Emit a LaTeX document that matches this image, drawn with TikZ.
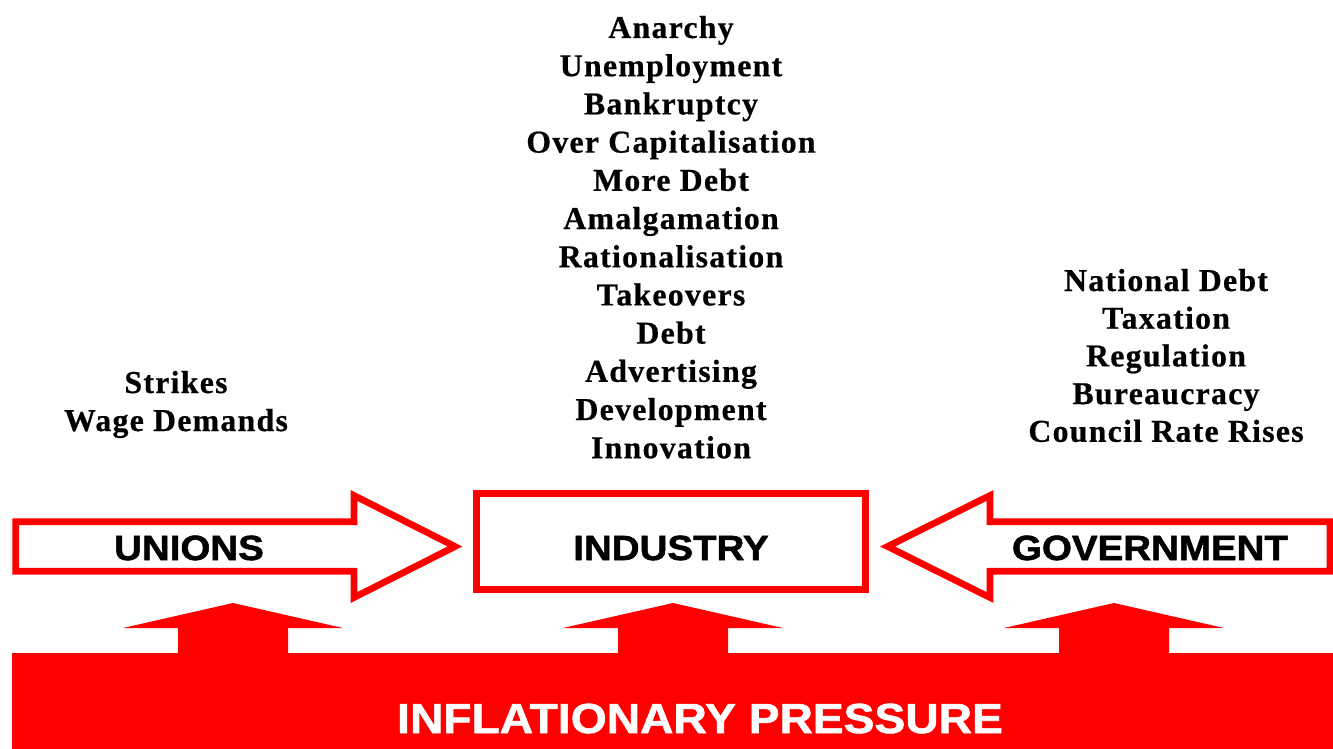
\documentclass[tikz,border=0pt]{standalone}
\usepackage{fontspec}
\setmainfont{Liberation Serif}
\newfontfamily\spacedserif[LetterSpace=4,FakeBold=0.6]{Liberation Serif}
\newfontfamily\widesans[FakeStretch=1.1,FakeBold=1.4]{Liberation Sans}
\usepackage{tikz}
\definecolor{pressred}{RGB}{255,0,0}

\begin{document}
\begin{tikzpicture}[x=0.5pt,y=-0.5pt]
    \tikzstyle{every node} = [inner sep=0pt, anchor=base]
    \tikzstyle{listitem} = [font=\fontsize{15.9}{19}\spacedserif\bfseries]
    \tikzstyle{sectorname} = [font=\fontsize{17.5}{21}\widesans\bfseries]
    \tikzstyle{pressuretext} = [font=\fontsize{21}{25}\widesans\bfseries, text=white]
    \tikzstyle{outline} = [draw=pressred, line width=3.35pt, fill=white, miter limit=20]
    \useasboundingbox (0,0) rectangle (1333,749);

    % pressure bar with the three push arrows
    \fill[pressred] (12,653) rectangle (1333,749);
    \foreach \cx in {233,673,1114}
        \fill[pressred] (\cx-55,654) -- (\cx-55,628) -- (\cx-110,628) -- (\cx,603)
            -- (\cx+110,628) -- (\cx+55,628) -- (\cx+55,654) -- cycle;
    \node[pressuretext] (pressure) at (700,733) {INFLATIONARY PRESSURE};

    % sector shapes
    \draw[outline] (15.8,521.7) -- (354,521.7) -- (354,495.5) -- (455,546.5)
        -- (354,597.5) -- (354,571.3) -- (15.8,571.3) -- cycle;
    \draw[outline] (476.3,493.3) rectangle (865.7,589.7);
    \draw[outline] (1330,521.7) -- (990,521.7) -- (990,495.5) -- (887.5,546.5)
        -- (990,597.5) -- (990,571.3) -- (1330,571.3) -- cycle;

    % place nodes
    \node[sectorname] (unions) at (189,560) {UNIONS};
    \node[sectorname] (industry) at (671,560) {INDUSTRY};
    \node[sectorname] (government) at (1150,560) {GOVERNMENT};

    % lists above each sector
    \foreach \entry [count=\i] in {Strikes, Wage Demands}
        \node[listitem] (unions-\i) at (176,{393+38*(\i-1)}) {\entry};
    \foreach \entry [count=\i] in {Anarchy, Unemployment, Bankruptcy, Over Capitalisation,
        More Debt, Amalgamation, Rationalisation, Takeovers, Debt, Advertising,
        Development, Innovation}
        \node[listitem] (industry-\i) at (671,{38+38.2*(\i-1)}) {\entry};
    \foreach \entry [count=\i] in {National Debt, Taxation, Regulation, Bureaucracy,
        Council Rate Rises}
        \node[listitem] (government-\i) at (1166,{291+37.7*(\i-1)}) {\entry};

\end{tikzpicture}
\end{document}
